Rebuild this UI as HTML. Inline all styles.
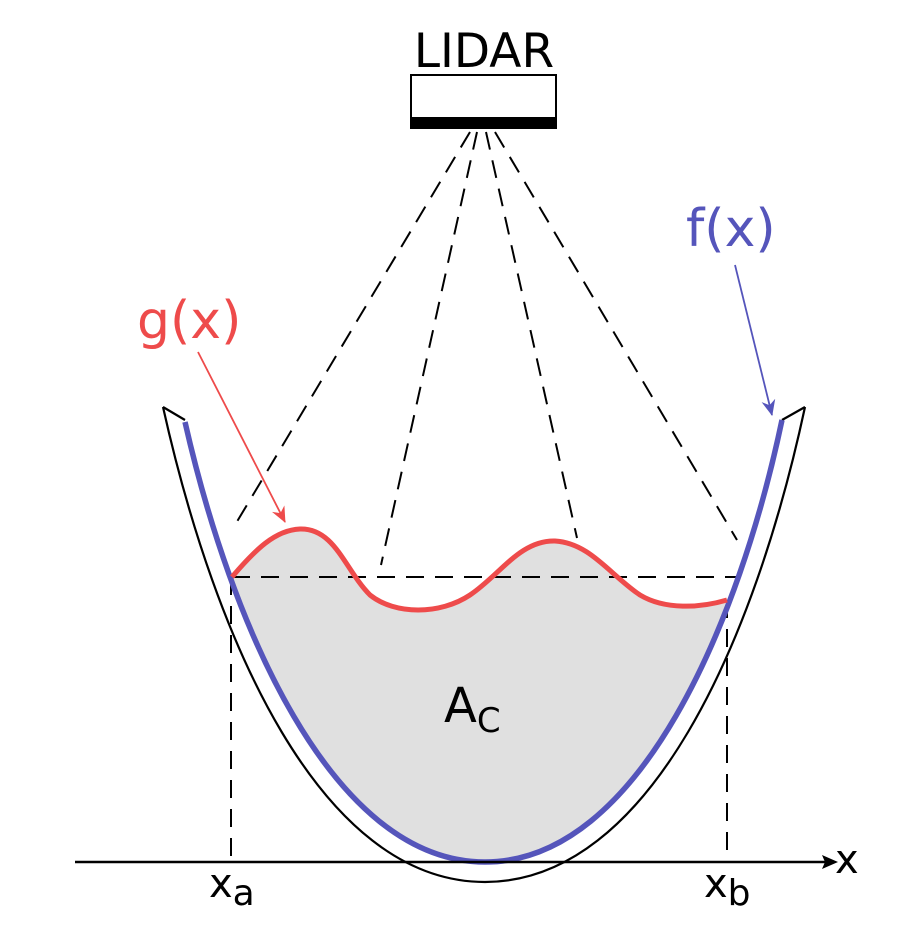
<!DOCTYPE html>
<html><head><meta charset="utf-8"><style>
html,body{margin:0;padding:0;background:#fff;}
svg{display:block;}
text{font-family:"DejaVu Sans","Liberation Sans",sans-serif;}
</style></head><body>
<svg width="898" height="930" viewBox="0 0 898 930" xmlns="http://www.w3.org/2000/svg">
<defs>
<clipPath id="cv"><path d="M185,422 C230,620 330,862 485,862 C640,862 740,620 782,420 Z"/></clipPath>
<marker id="ar" markerWidth="16" markerHeight="14" refX="15" refY="7" orient="auto" markerUnits="userSpaceOnUse"><path d="M0,0 L16,7 L0,14 L5,7 Z" fill="#ee4b4b"/></marker>
<marker id="ab" markerWidth="16" markerHeight="14" refX="15" refY="7" orient="auto" markerUnits="userSpaceOnUse"><path d="M0,0 L16,7 L0,14 L5,7 Z" fill="#5555bb"/></marker>
</defs>
<path clip-path="url(#cv)" fill="#e0e0e0" d="M232,577 C255,550 275,530 300,529 C335,528 345,570 370,595 C395,615 440,615 470,595 C500,575 520,540 555,541 C590,543 610,575 640,595 C665,610 700,608 727,600 L727,900 L232,900 Z"/>
<g stroke="#000" stroke-width="2" stroke-dasharray="18,11" fill="none">
<line x1="470" y1="132" x2="232" y2="530"/>
<line x1="477" y1="132" x2="381" y2="565"/>
<line x1="486" y1="132" x2="577" y2="538"/>
<line x1="495" y1="132" x2="737" y2="540"/>
<line x1="232" y1="577" x2="737" y2="577"/>
<line x1="231" y1="577" x2="231" y2="862"/>
<line x1="727" y1="600" x2="727" y2="862"/>
</g>
<path d="M163,407 C215,640 320,882 485,882 C650,882 755,640 805,407" fill="none" stroke="#000" stroke-width="2.2"/>
<path d="M163,407 L185,420 M805,407 L782,420" stroke="#000" stroke-width="2.2"/>
<path d="M185,422 C230,620 330,862 485,862 C640,862 740,620 782,420" fill="none" stroke="#5555bb" stroke-width="5.5"/>
<path d="M232,577 C255,550 275,530 300,529 C335,528 345,570 370,595 C395,615 440,615 470,595 C500,575 520,540 555,541 C590,543 610,575 640,595 C665,610 700,608 727,600" fill="none" stroke="#ee4b4b" stroke-width="5"/>
<line x1="75" y1="862" x2="828" y2="862" stroke="#000" stroke-width="2.4"/>
<path d="M838,862 L822,855 L825,862 L822,869 Z" fill="#000"/>
<text x="835" y="873" font-size="40">x</text>
<text x="209" y="897" font-size="40">x<tspan font-size="36" dy="8">a</tspan></text>
<text x="704" y="897" font-size="40">x<tspan font-size="36" dy="8">b</tspan></text>
<text x="484" y="67" font-size="47" text-anchor="middle">LIDAR</text>
<rect x="411" y="75" width="145" height="52" fill="#fff" stroke="#000" stroke-width="2"/>
<rect x="410" y="117" width="147" height="12" fill="#000"/>
<text x="137" y="338" font-size="52" fill="#ee4b4b">g(x)</text>
<line x1="198" y1="352" x2="285" y2="522" stroke="#ee4b4b" stroke-width="1.8" marker-end="url(#ar)"/>
<text x="686" y="246" font-size="52" fill="#5555bb">f(x)</text>
<line x1="735" y1="265" x2="772" y2="415" stroke="#5555bb" stroke-width="1.8" marker-end="url(#ab)"/>
<text x="444" y="722" font-size="48">A<tspan font-size="34" dy="10">C</tspan></text>
</svg>
</body></html>
